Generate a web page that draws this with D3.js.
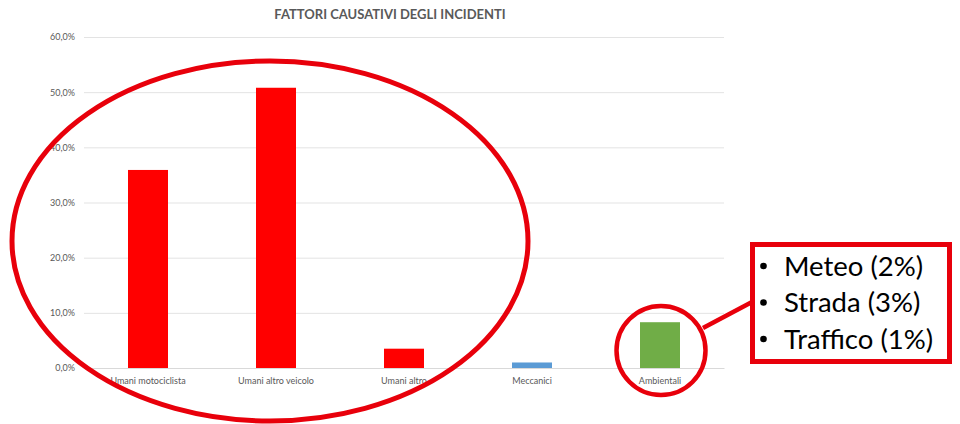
<!DOCTYPE html>
<html>
<head>
<meta charset="utf-8">
<script src="https://cdn.jsdelivr.net/npm/d3@7"></script>
<style>
  html, body { margin: 0; padding: 0; background: #ffffff; }
  svg { display: block; }
</style>
</head>
<body>
<div id="chart"></div>
<script>
/* chart data */
const categories = ["Umani motociclista", "Umani altro veicolo", "Umani altro", "Meccanici", "Ambientali"];
const values = [35.9, 50.8, 3.5, 1.0, 8.3];
const barColors = ["#ff0000", "#ff0000", "#ff0000", "#5b9bd5", "#70ad47"];
const yTicks = [0, 10, 20, 30, 40, 50, 60];
const calloutItems = ["Meteo (2%)", "Strada (3%)", "Traffico (1%)"];
const title = "FATTORI CAUSATIVI DEGLI INCIDENTI";

const W = 960, H = 424;
const plot = { left: 84, right: 724, top: 37, bottom: 368 };

const itLocale = d3.formatLocale({ decimal: ",", thousands: ".", grouping: [3], currency: ["€", ""] });
const fmt = itLocale.format(".1f");

const svg = d3.select("#chart")
    .append("svg")
    .attr("width", W)
    .attr("height", H);

/* scales */
const x = d3.scaleBand()
    .domain(categories)
    .range([plot.left, plot.right])
    .paddingInner(0.6875)
    .paddingOuter(0.34375);

const y = d3.scaleLinear()
    .domain([0, 60])
    .range([plot.bottom, plot.top]);

/* title */
svg.append("text")
    .attr("x", 390)
    .attr("y", 19)
    .attr("text-anchor", "middle")
    .style("font-family", "Lato, 'Open Sans', sans-serif")
    .style("font-weight", "bold")
    .style("font-size", "13px")
    .style("fill", "#595959")
    .text(title);

/* y axis with gridlines */
const yAxis = svg.append("g")
    .attr("transform", `translate(${plot.left}, 0)`)
    .call(d3.axisLeft(y)
        .tickValues(yTicks)
        .tickSize(-(plot.right - plot.left))
        .tickPadding(9)
        .tickFormat(d => fmt(d) + "%"));
yAxis.select(".domain").remove();
yAxis.selectAll(".tick line").attr("stroke", "#e3e3e3").attr("stroke-width", 1);
yAxis.selectAll(".tick text")
    .style("font-family", "Lato, 'Open Sans', sans-serif")
    .style("font-size", "9px")
    .style("fill", "#595959");

/* bars */
svg.append("g")
    .selectAll("rect")
    .data(values)
    .join("rect")
    .attr("x", (d, i) => x(categories[i]))
    .attr("y", d => y(d))
    .attr("width", x.bandwidth())
    .attr("height", d => y(0) - y(d))
    .attr("fill", (d, i) => barColors[i]);

/* x axis labels */
const xAxis = svg.append("g")
    .attr("transform", `translate(0, ${plot.bottom})`)
    .call(d3.axisBottom(x).tickSize(0).tickPadding(10));
xAxis.select(".domain").attr("stroke", "#d9d9d9");
xAxis.selectAll(".tick text")
    .style("font-family", "Lato, 'Open Sans', sans-serif")
    .style("font-size", "9px")
    .style("fill", "#595959");

/* annotations: big ellipse round the human factors */
const bw = x.bandwidth();
svg.append("ellipse")
    .attr("cx", x(categories[1]) + bw / 2 - 6)
    .attr("cy", 241)
    .attr("rx", 258)
    .attr("ry", 180)
    .attr("fill", "none")
    .attr("stroke", "#e8000b")
    .attr("stroke-width", 5);

/* small circle round Ambientali, connector and callout box */
const cx5 = x(categories[4]) + bw / 2 + 1;
const cy5 = 350.5;
svg.append("circle")
    .attr("cx", cx5)
    .attr("cy", cy5)
    .attr("r", 44.5)
    .attr("fill", "none")
    .attr("stroke", "#e8000b")
    .attr("stroke-width", 4.5);

svg.append("line")
    .attr("x1", 703)
    .attr("y1", 328)
    .attr("x2", 752)
    .attr("y2", 302)
    .attr("stroke", "#e8000b")
    .attr("stroke-width", 4.5);

svg.append("rect")
    .attr("x", 752.5)
    .attr("y", 244.5)
    .attr("width", 197)
    .attr("height", 117)
    .attr("fill", "#ffffff")
    .attr("stroke", "#e8000b")
    .attr("stroke-width", 5);

const callout = svg.append("g")
    .style("font-family", "Lato, 'Open Sans', sans-serif")
    .style("font-size", "27.5px")
    .style("fill", "#000000");

callout.selectAll("circle.bullet")
    .data(calloutItems)
    .join("circle")
    .attr("class", "bullet")
    .attr("cx", 763.5)
    .attr("cy", (d, i) => 266 + i * 36.5)
    .attr("r", 3.3)
    .attr("fill", "#000000");

callout.selectAll("text")
    .data(calloutItems)
    .join("text")
    .attr("x", 784)
    .attr("y", (d, i) => 275.5 + i * 36.5)
    .text(d => d);
</script>
</body>
</html>
